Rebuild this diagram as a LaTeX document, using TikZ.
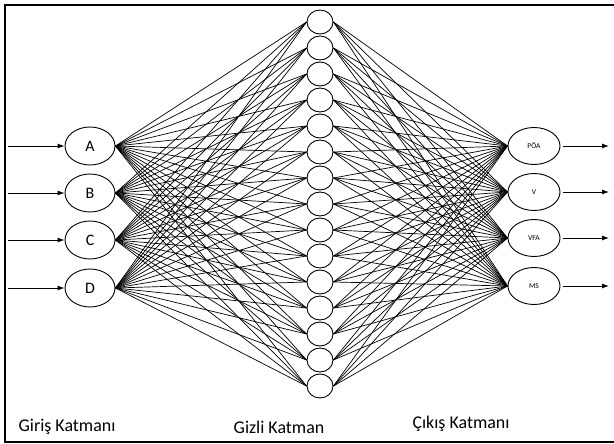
\documentclass[tikz,border=0pt]{standalone}
\usepackage{fontspec}
\setmainfont{Carlito}
\usetikzlibrary{shapes.geometric,arrows.meta}
\begin{document}
\begin{tikzpicture}[x=1bp,y=-1bp,
  inbox/.style={ellipse,draw,line width=0.9bp,minimum width=50bp,minimum height=38bp,inner sep=0pt,font=\fontsize{16}{16}\selectfont},
  outbox/.style={ellipse,draw,line width=0.9bp,minimum width=52bp,minimum height=37bp,inner sep=0pt,font=\fontsize{7.5}{7.5}\selectfont},
  hidbox/.style={ellipse,draw,line width=0.9bp,minimum width=26bp,minimum height=24bp,inner sep=0pt},
  link/.style={line width=0.7bp},
  arr/.style={line width=0.9bp,-{Latex[length=7bp,width=5bp]}},
  lbl/.style={font=\fontsize{18}{18}\selectfont}]
\useasboundingbox (0,0) rectangle (614,444);
\draw[line width=2bp] (616,5) -- (5,5) -- (5,442) -- (616,442);
% input nodes
\node[inbox] (A) at (90,146) {A};
\node[inbox] (B) at (90,193) {B};
\node[inbox] (C) at (90,240) {C};
\node[inbox] (D) at (90,288) {D};
% output nodes
\node[outbox] (O1) at (534,146) {PÖA};
\node[outbox] (O2) at (534,192) {V};
\node[outbox] (O3) at (534,238) {VFA};
\node[outbox] (O4) at (534,286) {MS};
% hidden nodes
\foreach \i in {1,...,15}{
  \node[hidbox] (H\i) at (320,{22+26*(\i-1)}) {};
}
% links
\foreach \a in {A,B,C,D}{
  \foreach \i in {1,...,15}{
    \draw[link] (\a.east) -- (H\i.west);
  }
}
\foreach \o in {O1,O2,O3,O4}{
  \foreach \i in {1,...,15}{
    \draw[link] (H\i.east) -- (\o.west);
  }
}
% input arrows
\coordinate (iA) at (8,146);
\coordinate (iB) at (8,193);
\coordinate (iC) at (8,240);
\coordinate (iD) at (8,288);
\draw[arr] (iA) -- (A.west);
\draw[arr] (iB) -- (B.west);
\draw[arr] (iC) -- (C.west);
\draw[arr] (iD) -- (D.west);
% output arrows
\coordinate (oA) at (609,146);
\coordinate (oB) at (609,192);
\coordinate (oC) at (609,238);
\coordinate (oD) at (609,286);
\draw[arr] (O1.east) ++(3,0) -- (oA);
\draw[arr] (O2.east) ++(3,0) -- (oB);
\draw[arr] (O3.east) ++(3,0) -- (oC);
\draw[arr] (O4.east) ++(3,0) -- (oD);
% labels
\node[lbl] (L1) at (67,427) {Giriş Katmanı};
\node[lbl] (L2) at (279,427) {Gizli Katman};
\node[lbl] (L3) at (461,424) {Çıkış Katmanı};
\end{tikzpicture}
\end{document}
